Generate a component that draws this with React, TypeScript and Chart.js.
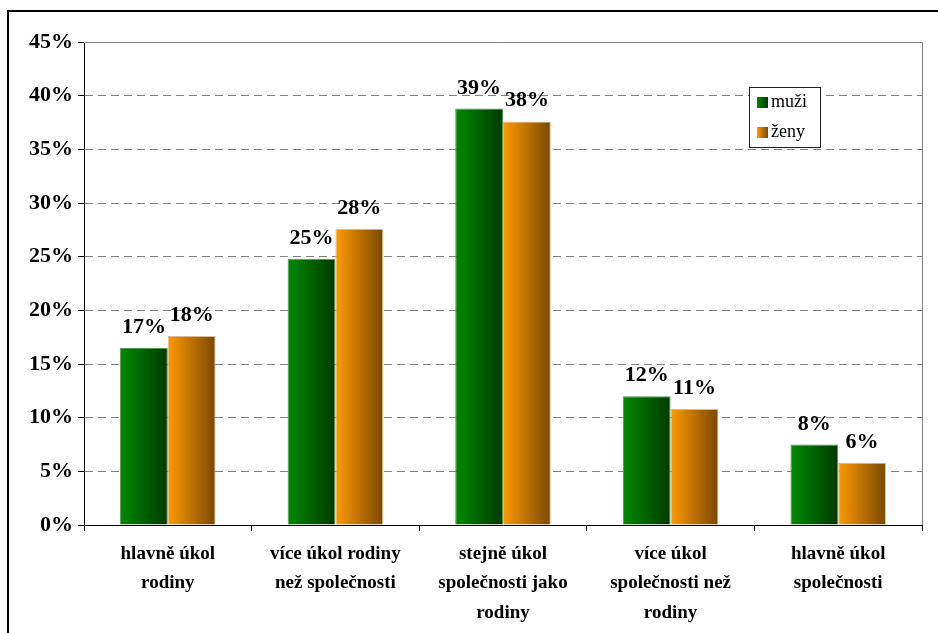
import React, { useEffect, useRef } from "react";
import { Chart, registerables } from "chart.js";

Chart.register(...registerables);

// Survey answers: whose task it is (family vs. society), shares in percent
const categories: string[][] = [
  ["hlavně úkol", "rodiny"],
  ["více úkol rodiny", "než společnosti"],
  ["stejně úkol", "společnosti jako", "rodiny"],
  ["více úkol", "společnosti než", "rodiny"],
  ["hlavně úkol", "společnosti"],
];
const seriesNames = ["muži", "ženy"];
const muzi = [16.5, 24.8, 38.8, 12.0, 7.5];
const zeny = [17.6, 27.6, 37.6, 10.8, 5.8];
const yTicks = [0, 5, 10, 15, 20, 25, 30, 35, 40, 45];

const CAT_PCT = 0.57;
const SERIF = "'Liberation Serif', 'Times New Roman', serif";
const GREEN = ["#008a00", "#003a00"];
const ORANGE = ["#ff9a00", "#7a4800"];

function barGradient(ctx: any, dsIndex: number, stops: string[]) {
  const chart = ctx.chart;
  const xs = chart.scales?.x;
  const area = chart.chartArea;
  if (!xs || !area) return stops[0];
  const center = xs.getPixelForValue(ctx.dataIndex);
  const w = (area.width / categories.length) * CAT_PCT / 2;
  const left = dsIndex === 0 ? center - w : center;
  const g = chart.ctx.createLinearGradient(left, 0, left + w, 0);
  g.addColorStop(0, stops[0]);
  g.addColorStop(1, stops[1]);
  return g;
}

const framePlugin = {
  id: "frame",
  beforeDraw(chart: any) {
    const { ctx, width, height } = chart;
    ctx.save();
    ctx.fillStyle = "#ffffff";
    ctx.fillRect(0, 0, width, height);
    ctx.strokeStyle = "#000000";
    ctx.lineWidth = 2;
    ctx.beginPath();
    ctx.moveTo(8, height);
    ctx.lineTo(8, 11);
    ctx.lineTo(width, 11);
    ctx.stroke();
    ctx.restore();
  },
  afterDraw(chart: any) {
    const { ctx, chartArea: a } = chart;
    ctx.save();
    ctx.strokeStyle = "#808080";
    ctx.lineWidth = 1;
    ctx.beginPath();
    ctx.moveTo(a.left, Math.round(a.top) + 0.5);
    ctx.lineTo(Math.round(a.right) + 0.5, Math.round(a.top) + 0.5);
    ctx.lineTo(Math.round(a.right) + 0.5, a.bottom);
    ctx.stroke();
    ctx.restore();
  },
};

const valueLabels = {
  id: "valueLabels",
  afterDatasetsDraw(chart: any) {
    const { ctx } = chart;
    ctx.save();
    ctx.font = `bold 22px ${SERIF}`;
    ctx.fillStyle = "#000000";
    ctx.textAlign = "center";
    ctx.textBaseline = "alphabetic";
    chart.data.datasets.forEach((ds: any, i: number) => {
      chart.getDatasetMeta(i).data.forEach((el: any, j: number) => {
        ctx.fillText(`${Math.round(ds.data[j])}%`, el.x, el.y - 15);
      });
    });
    ctx.restore();
  },
};

const boxLegend = {
  id: "boxLegend",
  afterDraw(chart: any) {
    const { ctx } = chart;
    const x0 = 749.5, y0 = 87.5, w = 71, h = 60;
    ctx.save();
    ctx.fillStyle = "#ffffff";
    ctx.fillRect(x0, y0, w, h);
    ctx.strokeStyle = "#222222";
    ctx.lineWidth = 1;
    ctx.strokeRect(x0, y0, w, h);
    ctx.font = `18px ${SERIF}`;
    ctx.textBaseline = "middle";
    ctx.textAlign = "left";
    [GREEN, ORANGE].forEach((stops, i) => {
      const sy = 97 + i * 30;
      const g = ctx.createLinearGradient(757, 0, 768, 0);
      g.addColorStop(0, stops[0]);
      g.addColorStop(1, stops[1]);
      ctx.fillStyle = g;
      ctx.fillRect(757, sy, 11, 11);
      ctx.fillStyle = "#000000";
      ctx.fillText(seriesNames[i], 771, sy + 5);
    });
    ctx.restore();
  },
};

export default function App() {
  const ref = useRef<HTMLCanvasElement | null>(null);

  useEffect(() => {
    if (!ref.current) return;
    const chart = new Chart(ref.current, {
      type: "bar",
      data: {
        labels: categories,
        datasets: [
          {
            label: seriesNames[0],
            data: muzi,
            backgroundColor: (c: any) => barGradient(c, 0, GREEN),
            borderColor: "#4f9a4f",
            borderWidth: 1,
            categoryPercentage: CAT_PCT,
            barPercentage: 1,
          },
          {
            label: seriesNames[1],
            data: zeny,
            backgroundColor: (c: any) => barGradient(c, 1, ORANGE),
            borderColor: "#d8bb90",
            borderWidth: 1,
            categoryPercentage: CAT_PCT,
            barPercentage: 1,
          },
        ],
      },
      options: {
        animation: false,
        responsive: false,
        maintainAspectRatio: false,
        layout: { padding: { left: 0, top: 42, right: 16, bottom: 0 } },
        plugins: {
          legend: { display: false },
          title: { display: false },
          tooltip: { enabled: false },
        },
        scales: {
          x: {
            grid: {
              offset: true,
              drawOnChartArea: false,
              drawTicks: true,
              tickLength: 6,
              tickColor: "#000000",
            },
            border: { display: true, color: "#000000", width: 1 },
            ticks: {
              color: "#000000",
              padding: 8,
              maxRotation: 0,
              autoSkip: false,
              font: { family: SERIF, size: 19, weight: "bold", lineHeight: 1.55 },
            },
            afterFit(scale: any) {
              scale.height = 108;
            },
          },
          y: {
            min: 0,
            max: 45,
            afterBuildTicks(scale: any) {
              scale.ticks = yTicks.map((v) => ({ value: v }));
            },
            grid: {
              color: (c: any) =>
                c.tick && (c.tick.value === 0 || c.tick.value === 45) ? "rgba(0,0,0,0)" : "#808080",
              tickBorderDash: [],
              tickLength: 6,
              tickColor: "#000000",
              lineWidth: 1,
            },
            border: { display: true, color: "#000000", width: 1, dash: [8, 5] },
            ticks: {
              color: "#000000",
              padding: 5,
              font: { family: SERIF, size: 22, weight: "bold" },
              callback: (v: any) => `${v}%`,
            },
            afterFit(scale: any) {
              scale.width = 84;
            },
          },
        },
      },
      plugins: [framePlugin, valueLabels, boxLegend],
    });
    return () => chart.destroy();
  }, []);

  return (
    <div style={{ position: "fixed", left: 0, top: 0, width: 938, height: 633 }}>
      <canvas ref={ref} width={938} height={633} style={{ display: "block" }} />
    </div>
  );
}
